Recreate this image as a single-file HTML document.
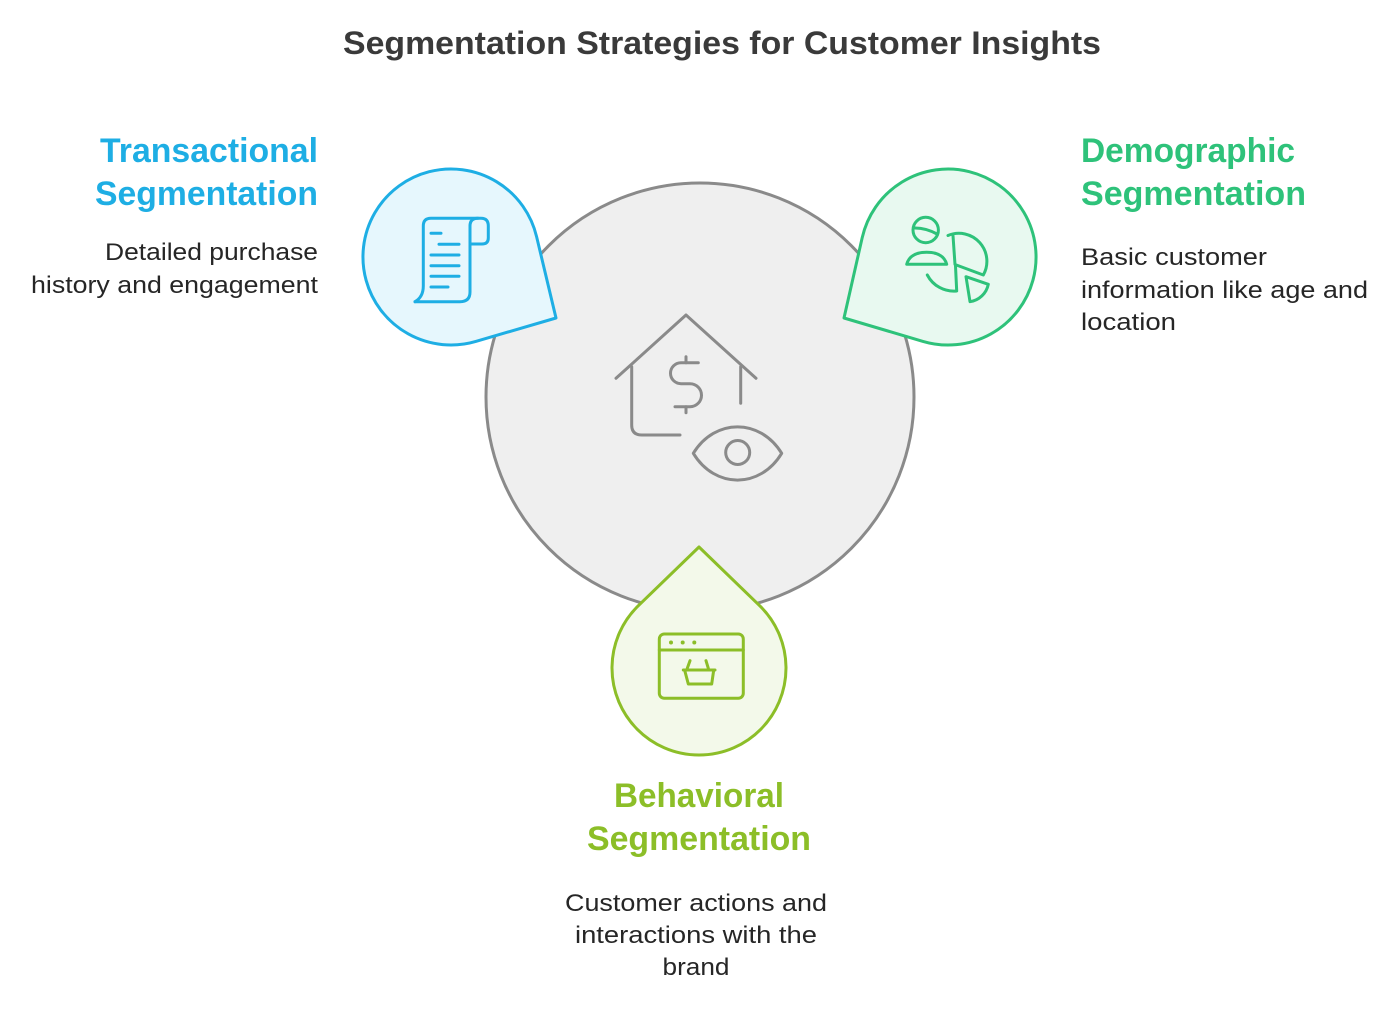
<!DOCTYPE html>
<html>
<head>
<meta charset="utf-8">
<style>
  html, body { margin:0; padding:0; background:#ffffff; }
  body { width:1400px; height:1011px; overflow:hidden; }
  svg { display:block; }
  text { font-family: "Liberation Sans", Arial, sans-serif; }
</style>
</head>
<body>
<svg width="1400" height="1011" viewBox="0 0 1400 1011" xmlns="http://www.w3.org/2000/svg">
  <rect x="0" y="0" width="1400" height="1011" fill="#ffffff"/>

  <!-- Title -->
  <text x="722" y="54" text-anchor="middle" font-size="32" font-weight="bold" fill="#3a3a3a" textLength="758" lengthAdjust="spacingAndGlyphs">Segmentation Strategies for Customer Insights</text>

  <!-- Central circle -->
  <circle cx="700" cy="397" r="214" fill="#efefef" stroke="#8a8a8a" stroke-width="3"/>

  <!-- House + dollar + eye icon -->
  <g fill="none" stroke="#8a8a8a" stroke-width="3" stroke-linecap="round" stroke-linejoin="round">
    <path d="M616 378.3 L686 315 L756 378.3"/>
    <path d="M631.7 366.7 L631.7 425 Q631.7 435 641.7 435 L680 435"/>
    <path d="M740.7 366.7 L740.7 403.3"/>
    <path d="M686 356.7 L686 362.7"/>
    <path d="M686 406.7 L686 412.7"/>
    <path d="M698.3 362.7 L681 362.7 A10.5 10.5 0 0 0 681 383.7 L690 383.7 A11.5 11.5 0 0 1 690 406.7 L675 406.7"/>
    <path d="M693.3 453.3 C715 418, 760 418, 781.7 453.3 C760 489, 715 489, 693.3 453.3 Z"/>
    <circle cx="737.7" cy="452.5" r="12"/>
  </g>

  <!-- Blue drop (Transactional) -->
  <path d="M536.6 236.7 L556 318 L475.8 341.4 A88 88 0 1 1 536.6 236.7 Z" fill="#e6f7fd" stroke="#1eaee4" stroke-width="3" stroke-linejoin="round"/>
  <g fill="none" stroke="#1eaee4" stroke-width="3" stroke-linecap="round" stroke-linejoin="round">
    <path d="M415 301.7 Q423.3 297 423.3 286 L423.3 226 Q423.3 218.3 431 218.3 L481 218.3 Q488.3 218.3 488.3 226 L488.3 238 Q488.3 244 482 244 L470 244"/>
    <path d="M470 226 Q470 218.3 478 218.3"/>
    <path d="M470 226 L470 292 Q470 301.7 460 301.7 L415 301.7"/>
    <path d="M431 233.3 L441 233.3"/>
    <path d="M439 244.3 L459 244.3"/>
    <path d="M431 255 L459 255"/>
    <path d="M431 265.7 L459 265.7"/>
    <path d="M431 276.3 L459 276.3"/>
    <path d="M431 287 L448 287"/>
  </g>

  <!-- Green drop (Demographic) -->
  <path d="M862.2 237.7 L844 318 L923 341.4 A88 88 0 1 0 862.2 237.7 Z" fill="#e8f9f0" stroke="#2ec27a" stroke-width="3" stroke-linejoin="round"/>
  <g fill="none" stroke="#2ec27a" stroke-width="3" stroke-linecap="round" stroke-linejoin="round">
    <circle cx="925.7" cy="230" r="12.7"/>
    <path d="M915 228 Q926 228 937 234"/>
    <path d="M906.7 264.3 Q910 252.3 926.7 252.3 Q943.4 252.3 946.7 264.3 Z"/>
    <path d="M948 235.5 A28 28 0 0 1 983.3 275 L955 264.5 L953 235.6"/>
    <path d="M927.3 275 A30 30 0 0 0 956.7 291 L955.5 266"/>
    <path d="M966 276.7 L988.3 284.3 A22 22 0 0 1 970 301.7 Z"/>
  </g>

  <!-- Lime drop (Behavioral) -->
  <path d="M638.6 605.4 L699 547 L759.4 605.4 A87 87 0 1 1 638.6 605.4 Z" fill="#f3f9ea" stroke="#8cbe28" stroke-width="3" stroke-linejoin="round"/>
  <g fill="none" stroke="#8cbe28" stroke-width="3" stroke-linecap="round" stroke-linejoin="round">
    <rect x="659.3" y="634" width="84" height="64.3" rx="5"/>
    <path d="M659.3 650 L743.3 650"/>
    <path d="M690 660.7 L687.3 668.3"/>
    <path d="M706 660.7 L708.3 668.3"/>
    <path d="M683.3 670 L715 670"/>
    <path d="M685 671.5 L688.3 684 L711.7 684 L713.5 671.5"/>
  </g>
  <g fill="#8cbe28">
    <circle cx="671" cy="642.5" r="2"/>
    <circle cx="682.7" cy="642.5" r="2"/>
    <circle cx="694.3" cy="642.5" r="2"/>
  </g>

  <!-- Transactional text -->
  <text x="318" y="162" text-anchor="end" font-size="34" font-weight="bold" fill="#1eaee4" textLength="218" lengthAdjust="spacingAndGlyphs">Transactional</text>
  <text x="318" y="205" text-anchor="end" font-size="34" font-weight="bold" fill="#1eaee4" textLength="223" lengthAdjust="spacingAndGlyphs">Segmentation</text>
  <text x="318" y="260" text-anchor="end" font-size="24" fill="#262626" textLength="213" lengthAdjust="spacingAndGlyphs">Detailed purchase</text>
  <text x="318" y="293" text-anchor="end" font-size="24" fill="#262626" textLength="287" lengthAdjust="spacingAndGlyphs">history and engagement</text>

  <!-- Demographic text -->
  <text x="1081" y="162" font-size="34" font-weight="bold" fill="#2ec27a" textLength="214" lengthAdjust="spacingAndGlyphs">Demographic</text>
  <text x="1081" y="205" font-size="34" font-weight="bold" fill="#2ec27a" textLength="225" lengthAdjust="spacingAndGlyphs">Segmentation</text>
  <text x="1081" y="265" font-size="24" fill="#262626" textLength="186" lengthAdjust="spacingAndGlyphs">Basic customer</text>
  <text x="1081" y="298" font-size="24" fill="#262626" textLength="287" lengthAdjust="spacingAndGlyphs">information like age and</text>
  <text x="1081" y="330" font-size="24" fill="#262626" textLength="95" lengthAdjust="spacingAndGlyphs">location</text>

  <!-- Behavioral text -->
  <text x="699" y="807" text-anchor="middle" font-size="34" font-weight="bold" fill="#8cbe28" textLength="170" lengthAdjust="spacingAndGlyphs">Behavioral</text>
  <text x="699" y="850" text-anchor="middle" font-size="34" font-weight="bold" fill="#8cbe28" textLength="224" lengthAdjust="spacingAndGlyphs">Segmentation</text>
  <text x="696" y="911" text-anchor="middle" font-size="24" fill="#262626" textLength="262" lengthAdjust="spacingAndGlyphs">Customer actions and</text>
  <text x="696" y="943" text-anchor="middle" font-size="24" fill="#262626" textLength="242" lengthAdjust="spacingAndGlyphs">interactions with the</text>
  <text x="696" y="975" text-anchor="middle" font-size="24" fill="#262626" textLength="67" lengthAdjust="spacingAndGlyphs">brand</text>
</svg>
</body>
</html>
